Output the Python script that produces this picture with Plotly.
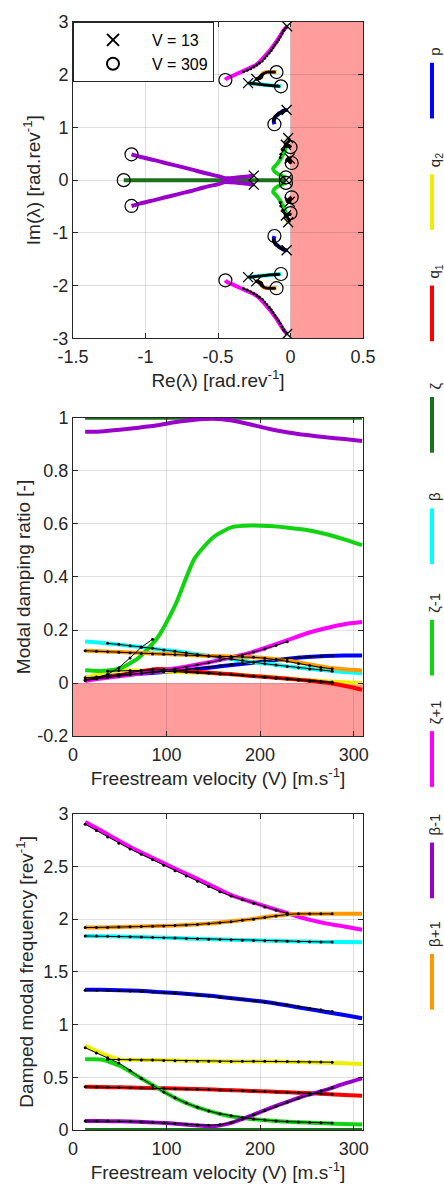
import numpy as np
import plotly.graph_objects as go

# ---------------- data ----------------
V = [13, 30, 50, 70, 90, 110, 130, 150, 170, 190, 210, 230, 250, 270, 290, 309]

mode_names = ["p", "q<sub>2</sub>", "q<sub>1</sub>", "ζ", "β", "ζ-1", "ζ+1", "β-1", "β+1"]
mode_colors = ["#0000ff", "#eeee00", "#ff0000", "#1b701b", "#00ffff", "#11d411", "#ff00ff", "#9a00cc", "#ff9900"]

# modal damping ratio [-]
damp_p = [0.02, 0.025, 0.03, 0.035, 0.04, 0.045, 0.052, 0.06, 0.068, 0.076, 0.084, 0.092, 0.098, 0.102, 0.104, 0.104]
damp_q2 = [0.02, 0.035, 0.047, 0.047, 0.045, 0.042, 0.04, 0.037, 0.033, 0.028, 0.023, 0.017, 0.012, 0.007, 0.003, 0.0]
damp_q1 = [0.012, 0.02, 0.03, 0.042, 0.053, 0.05, 0.043, 0.038, 0.033, 0.027, 0.022, 0.016, 0.01, 0.002, -0.01, -0.025]
damp_zeta = [1.0, 1.0, 1.0, 1.0, 1.0, 1.0, 1.0, 1.0, 1.0, 1.0, 1.0, 1.0, 1.0, 1.0, 1.0, 1.0]
damp_beta = [0.157, 0.152, 0.145, 0.137, 0.128, 0.12, 0.11, 0.10, 0.09, 0.08, 0.072, 0.063, 0.055, 0.048, 0.042, 0.037]
damp_zm1 = [0.048, 0.046, 0.055, 0.095, 0.17, 0.30, 0.47, 0.55, 0.588, 0.594, 0.592, 0.586, 0.577, 0.562, 0.542, 0.52]
damp_zp1 = [0.008, 0.017, 0.026, 0.035, 0.045, 0.056, 0.068, 0.082, 0.098, 0.115, 0.138, 0.163, 0.188, 0.207, 0.222, 0.23]
damp_bm1 = [0.948, 0.949, 0.955, 0.963, 0.972, 0.984, 0.993, 0.997, 0.990, 0.975, 0.958, 0.945, 0.935, 0.927, 0.92, 0.913]
damp_bp1 = [0.122, 0.12, 0.117, 0.114, 0.111, 0.108, 0.105, 0.102, 0.10, 0.098, 0.093, 0.085, 0.072, 0.06, 0.052, 0.047]

# damped modal frequency [rev^-1]
freq_p = [1.33, 1.33, 1.325, 1.32, 1.31, 1.30, 1.285, 1.27, 1.25, 1.23, 1.21, 1.18, 1.15, 1.12, 1.09, 1.06]
freq_q2 = [0.80, 0.73, 0.67, 0.667, 0.663, 0.658, 0.654, 0.651, 0.65, 0.65, 0.65, 0.647, 0.643, 0.638, 0.632, 0.625]
freq_q1 = [0.41, 0.408, 0.405, 0.40, 0.397, 0.393, 0.388, 0.383, 0.377, 0.371, 0.365, 0.358, 0.35, 0.342, 0.333, 0.325]
freq_zeta = [0.0, 0.0, 0.0, 0.0, 0.0, 0.0, 0.0, 0.0, 0.0, 0.0, 0.0, 0.0, 0.0, 0.0, 0.0, 0.0]
freq_beta = [1.84, 1.838, 1.835, 1.83, 1.825, 1.82, 1.815, 1.81, 1.805, 1.80, 1.795, 1.79, 1.787, 1.784, 1.782, 1.78]
freq_zm1 = [0.67, 0.668, 0.61, 0.505, 0.40, 0.30, 0.225, 0.17, 0.128, 0.105, 0.09, 0.078, 0.07, 0.063, 0.057, 0.052]
freq_zp1 = [2.92, 2.84, 2.74, 2.645, 2.56, 2.475, 2.395, 2.31, 2.225, 2.165, 2.11, 2.055, 2.0, 1.96, 1.93, 1.90]
freq_bm1 = [0.085, 0.085, 0.083, 0.078, 0.07, 0.06, 0.045, 0.035, 0.07, 0.135, 0.205, 0.27, 0.33, 0.38, 0.44, 0.49]
freq_bp1 = [1.92, 1.92, 1.925, 1.93, 1.935, 1.94, 1.95, 1.96, 1.98, 2.0, 2.025, 2.045, 2.05, 2.05, 2.05, 2.05]

# real (non-oscillatory) root of the zeta mode [rad.rev^-1]
zeta_real = [-0.03, -0.1, -0.18, -0.26, -0.33, -0.41, -0.48, -0.56, -0.63, -0.71, -0.78, -0.86, -0.93, -1.01, -1.08, -1.15]

# reference (black dotted) results
Vr = [13, 25, 37, 49, 61, 73, 85, 97, 109, 121, 133, 145, 157, 169, 181, 193, 205, 217, 229, 241, 253, 265, 277]
N = None
ref_zp1_f = [2.90, 2.84, 2.78, 2.72, 2.665, 2.615, 2.565, 2.51, 2.46, 2.41, 2.36, 2.31, 2.26, 2.22, 2.185, 2.15, 2.115, 2.085, 2.055, N, N, N, N]
ref_zp1_d = [0.01, 0.016, 0.021, 0.026, 0.031, 0.036, 0.042, 0.048, 0.054, 0.061, 0.069, 0.077, 0.086, 0.096, 0.106, 0.117, 0.129, 0.142, 0.156, N, N, N, N]
ref_bp1_f = [1.92, 1.92, 1.92, 1.925, 1.927, 1.93, 1.932, 1.935, 1.94, 1.945, 1.95, 1.957, 1.965, 1.975, 1.99, 2.0, 2.015, 2.03, 2.045, 2.05, 2.05, 2.05, 2.05]
ref_bp1_d = [0.122, 0.12, 0.118, 0.116, 0.114, 0.112, 0.11, 0.109, 0.107, 0.105, 0.104, 0.102, 0.101, 0.1, 0.099, 0.097, 0.094, 0.089, 0.082, 0.074, 0.066, 0.059, 0.054]
ref_beta_f = [1.84, 1.84, 1.838, 1.836, 1.833, 1.83, 1.827, 1.823, 1.82, 1.817, 1.813, 1.81, 1.807, 1.804, 1.8, 1.797, 1.795, 1.793, 1.79, 1.788, 1.786, 1.784, 1.783]
ref_beta_d = [N, N, 0.15, 0.146, 0.141, 0.136, 0.131, 0.125, 0.12, 0.114, 0.108, 0.102, 0.097, 0.091, 0.085, 0.079, 0.073, 0.068, 0.063, 0.058, 0.053, 0.049, 0.045]
ref_p_f = [1.325, 1.325, 1.325, 1.322, 1.318, 1.315, 1.31, 1.305, 1.298, 1.29, 1.28, 1.27, 1.26, 1.25, 1.24, 1.228, 1.215, 1.2, 1.185, 1.17, 1.155, 1.14, 1.125]
ref_p_d = [0.02, 0.023, 0.026, 0.03, 0.033, 0.036, 0.04, 0.043, 0.047, 0.051, 0.055, 0.06, 0.065, 0.07, 0.074, 0.079, 0.084, 0.089, 0.093, 0.097, 0.1, 0.102, 0.103]
ref_a_f = [0.78, 0.73, 0.685, 0.635, 0.565, 0.49, 0.425, 0.36, 0.305, 0.255, 0.215, 0.18, 0.155, 0.135, 0.118, 0.105, 0.094, 0.086, 0.08, 0.075, 0.071, 0.068, 0.066]
ref_a_d = [0.012, 0.02, 0.033, 0.058, 0.095, 0.135, 0.165, N, N, N, N, N, N, N, N, N, N, N, N, N, N, N, N]
ref_q2_f = [N, N, 0.67, 0.668, 0.667, 0.665, 0.663, 0.66, 0.657, 0.655, 0.653, 0.651, 0.65, 0.65, 0.651, 0.652, 0.652, 0.651, 0.65, 0.648, 0.646, 0.645, 0.643]
ref_q2_d = [N, N, 0.045, 0.047, 0.047, 0.047, 0.046, 0.045, 0.043, 0.041, 0.039, 0.037, 0.034, 0.032, 0.029, 0.026, 0.023, 0.02, 0.017, 0.014, 0.01, 0.007, 0.004]
ref_q1_f = [0.41, 0.408, 0.406, 0.404, 0.401, 0.399, 0.397, 0.395, 0.392, 0.389, 0.386, 0.383, 0.38, 0.376, 0.373, 0.369, 0.365, 0.361, 0.357, 0.353, 0.348, 0.343, 0.338]
ref_q1_d = [0.012, 0.018, 0.025, 0.032, 0.04, 0.047, 0.053, 0.052, 0.048, 0.045, 0.042, 0.039, 0.036, 0.033, 0.03, 0.026, 0.022, 0.018, 0.015, 0.011, 0.007, 0.003, -0.001]
ref_bm1_f = [0.085, 0.085, 0.085, 0.083, 0.08, 0.077, 0.073, 0.068, 0.062, 0.055, 0.048, 0.045, 0.05, 0.07, 0.105, 0.145, 0.185, 0.225, 0.265, 0.30, 0.335, 0.37, 0.40]
ref_bm1_d = [N, N, N, N, N, N, N, N, N, N, N, N, N, N, N, N, N, N, N, N, N, N, N]

# axis ticks
re_ticks = [-1.5, -1, -0.5, 0, 0.5]
re_ticktext = ["-1.5", "-1", "-0.5", "0", "0.5"]
im_ticks = [-3, -2, -1, 0, 1, 2, 3]
im_ticktext = ["-3", "-2", "-1", "0", "1", "2", "3"]
v_ticks = [0, 100, 200, 300]
v_ticktext = ["0", "100", "200", "300"]
damp_ticks = [-0.2, 0, 0.2, 0.4, 0.6, 0.8, 1]
damp_ticktext = ["-0.2", "0", "0.2", "0.4", "0.6", "0.8", "1"]
freq_ticks = [0, 0.5, 1, 1.5, 2, 2.5, 3]
freq_ticktext = ["0", "0.5", "1", "1.5", "2", "2.5", "3"]

damp_sets = [damp_p, damp_q2, damp_q1, damp_zeta, damp_beta, damp_zm1, damp_zp1, damp_bm1, damp_bp1]
freq_sets = [freq_p, freq_q2, freq_q1, freq_zeta, freq_beta, freq_zm1, freq_zp1, freq_bm1, freq_bp1]
ref_pairs = [(ref_zp1_d, ref_zp1_f), (ref_bp1_d, ref_bp1_f), (ref_beta_d, ref_beta_f), (ref_p_d, ref_p_f),
             (ref_a_d, ref_a_f), (ref_q2_d, ref_q2_f), (ref_q1_d, ref_q1_f), (ref_bm1_d, ref_bm1_f)]

# ---------------- helpers ----------------
FONT = "Liberation Sans, Arial, sans-serif"
INK = "#262626"
GRID = "rgba(38,38,38,0.15)"


def arr(a):
    return np.array([np.nan if v is None else v for v in a], dtype=float)


def real_part(d, f):
    d = arr(d)
    f = arr(f)
    with np.errstate(divide="ignore", invalid="ignore"):
        return -d * f / np.sqrt(1.0 - d ** 2)


fig = go.Figure()

# coloured (model) curves
top_re, top_im = [], []
for i, (d, f, c) in enumerate(zip(damp_sets, freq_sets, mode_colors)):
    if i == 3:
        re = arr(zeta_real)
        fig.add_trace(go.Scatter(x=re, y=arr(f), mode="lines", line=dict(color=c, width=4),
                                 showlegend=False, hoverinfo="skip", xaxis="x", yaxis="y"))
        top_re.append(re)
        top_im.append(arr(f))
    else:
        re = real_part(d, f)
        for s in (1, -1):
            fig.add_trace(go.Scatter(x=re, y=s * arr(f), mode="lines", line=dict(color=c, width=4, shape="spline", smoothing=0.6),
                                     showlegend=False, hoverinfo="skip", xaxis="x", yaxis="y"))
            top_re.append(re)
            top_im.append(s * arr(f))
    fig.add_trace(go.Scatter(x=V, y=d, mode="lines", line=dict(color=c, width=4, shape="spline", smoothing=0.6),
                             showlegend=False, hoverinfo="skip", xaxis="x2", yaxis="y2"))
    fig.add_trace(go.Scatter(x=V, y=f, mode="lines", line=dict(color=c, width=4, shape="spline", smoothing=0.6),
                             showlegend=False, hoverinfo="skip", xaxis="x3", yaxis="y3"))

# black dotted reference curves
ref_style = dict(mode="lines+markers", line=dict(color="black", width=1),
                 marker=dict(color="black", size=3), showlegend=False, hoverinfo="skip")
for d, f in ref_pairs:
    re = real_part(d, f)
    for s in (1, -1):
        fig.add_trace(go.Scatter(x=re, y=s * arr(f), xaxis="x", yaxis="y", **ref_style))
    fig.add_trace(go.Scatter(x=Vr, y=arr(d), xaxis="x2", yaxis="y2", **ref_style))
    fig.add_trace(go.Scatter(x=Vr, y=arr(f), xaxis="x3", yaxis="y3", **ref_style))

# start / end markers in the complex plane
fig.add_trace(go.Scatter(x=[r[0] for r in top_re], y=[m[0] for m in top_im], mode="markers",
                         marker=dict(symbol="x-thin", size=10, line=dict(color="black", width=1.3), color="black"),
                         name="V = %d" % V[0], xaxis="x", yaxis="y", hoverinfo="skip"))
fig.add_trace(go.Scatter(x=[r[-1] for r in top_re], y=[m[-1] for m in top_im], mode="markers",
                         marker=dict(symbol="circle-open", size=13, line=dict(color="black", width=1.2), color="black"),
                         name="V = %d" % V[-1], xaxis="x", yaxis="y", hoverinfo="skip"))

# ---------------- layout ----------------
W, H = 444, 1188
ML, MR, MT, MB = 73, 81, 16, 58
PH = H - MT - MB


def ydom(top_px, bot_px):
    return [(H - MB - bot_px) / PH, (H - MB - top_px) / PH]


axis_common = dict(showline=True, linecolor=INK, linewidth=1, mirror="ticks", ticks="inside", ticklen=5,
                   tickcolor=INK, showgrid=True, gridcolor=GRID, gridwidth=1, zeroline=False,
                   tickfont=dict(family=FONT, size=18, color=INK))
title_font = dict(family=FONT, size=19, color=INK)

fig.update_layout(
    width=W, height=H, margin=dict(l=ML, r=MR, t=MT, b=MB),
    paper_bgcolor="white", plot_bgcolor="white",
    font=dict(family=FONT, color=INK),
    xaxis=dict(axis_common, domain=[0, 1], anchor="y", range=[-1.5, 0.5], tickvals=re_ticks, ticktext=re_ticktext,
               ticklabelstandoff=2,
               title=dict(text="Re(λ) [rad.rev<sup>-1</sup>]", font=title_font, standoff=0)),
    yaxis=dict(axis_common, domain=ydom(16, 334), anchor="x", range=[-3, 3], tickvals=im_ticks, ticktext=im_ticktext,
               title=dict(text="Im(λ) [rad.rev<sup>-1</sup>]", font=title_font, standoff=6)),
    xaxis2=dict(axis_common, domain=[0, 1], anchor="y2", range=[0, 310], tickvals=v_ticks, ticktext=v_ticktext,
                ticklabelstandoff=2,
                title=dict(text="Freestream velocity (V) [m.s<sup>-1</sup>]", font=title_font, standoff=0)),
    yaxis2=dict(axis_common, domain=ydom(414, 734), anchor="x2", range=[-0.2, 1], tickvals=damp_ticks, ticktext=damp_ticktext,
                title=dict(text="Modal damping ratio [-]", font=title_font, standoff=1)),
    xaxis3=dict(axis_common, domain=[0, 1], anchor="y3", range=[0, 310], tickvals=v_ticks, ticktext=v_ticktext,
                ticklabelstandoff=2,
                title=dict(text="Freestream velocity (V) [m.s<sup>-1</sup>]", font=title_font, standoff=0)),
    yaxis3=dict(axis_common, domain=ydom(812, 1130), anchor="x3", range=[0, 3], tickvals=freq_ticks, ticktext=freq_ticktext,
                title=dict(text="Damped modal frequency [rev<sup>-1</sup>]", font=title_font, standoff=4)),
    legend=dict(x=0, y=1, xanchor="left", yanchor="top", bgcolor="white", bordercolor=INK, borderwidth=1,
                font=dict(family=FONT, size=16, color="black"), itemwidth=68, tracegroupgap=0,
                itemsizing="constant"),
    showlegend=True,
)

# unstable regions
fig.add_shape(type="rect", xref="x", yref="y domain", x0=0, x1=0.5, y0=0, y1=1,
              fillcolor="rgba(255,60,60,0.5)", line=dict(width=0), layer="below")
fig.add_shape(type="rect", xref="x2 domain", yref="y2", x0=0, x1=1, y0=-0.2, y1=0,
              fillcolor="rgba(255,60,60,0.5)", line=dict(width=0), layer="below")

# mode key on the right
KEY_X = 432
for i, (name, col) in enumerate(zip(mode_names, mode_colors)):
    top_px = 57 + i * 112
    bot_px = top_px + 56
    xp = (KEY_X - ML) / (W - ML - MR)
    fig.add_shape(type="line", xref="paper", yref="paper", x0=xp, x1=xp,
                  y0=(H - MB - top_px) / PH, y1=(H - MB - bot_px) / PH, line=dict(color=col, width=4))
    fig.add_annotation(xref="paper", yref="paper", x=(KEY_X + 3 - ML) / (W - ML - MR), y=(H - MB - top_px + 5) / PH,
                       text=name, textangle=-90, showarrow=False, xanchor="center", yanchor="bottom",
                       font=dict(family=FONT, size=15, color=INK))

fig.write_html("out.html")
